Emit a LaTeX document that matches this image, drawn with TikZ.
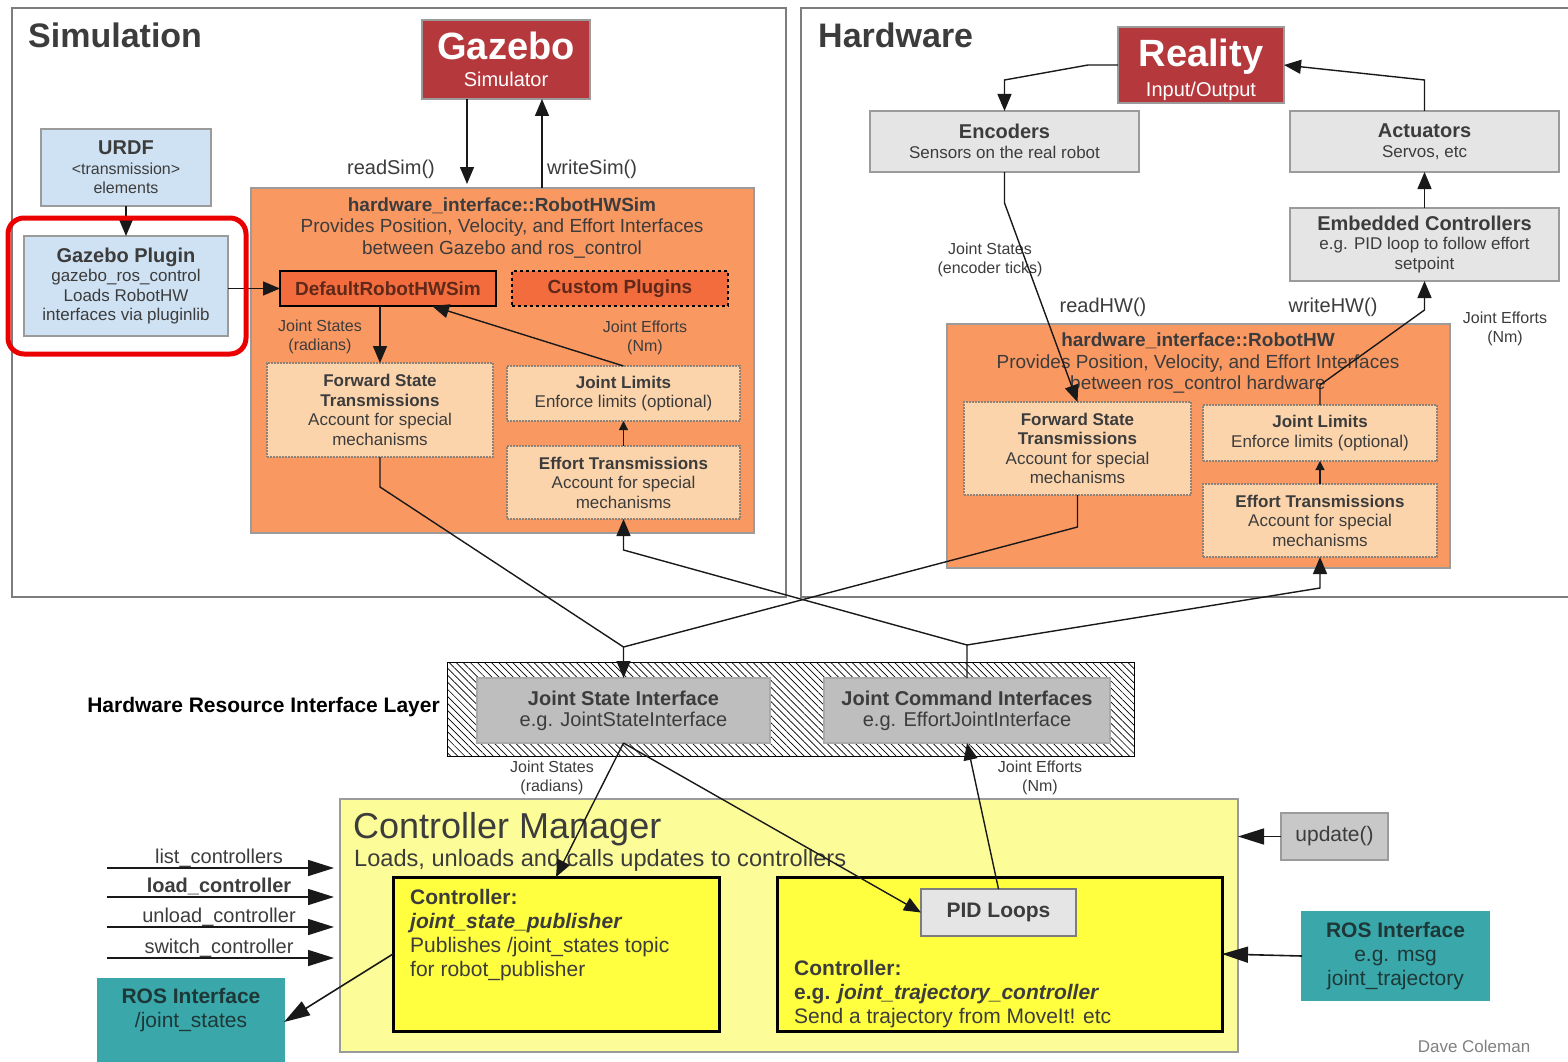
\documentclass[tikz,border=0pt]{standalone}
\usepackage{fontspec}
\setmainfont{Liberation Sans}
\usetikzlibrary{arrows.meta,patterns.meta,positioning}

\definecolor{framegray}{RGB}{125,125,125}
\definecolor{boxline}{RGB}{155,155,155}
\definecolor{txtgray}{RGB}{60,60,60}
\definecolor{linecol}{RGB}{25,25,25}
\definecolor{simred}{RGB}{180,56,60}
\definecolor{urdfblue}{RGB}{207,226,243}
\definecolor{hworange}{RGB}{250,152,98}
\definecolor{plugorange}{RGB}{242,108,62}
\definecolor{plugtext}{RGB}{95,40,25}
\definecolor{transpeach}{RGB}{252,212,172}
\definecolor{dotgray}{RGB}{140,130,120}
\definecolor{boxgray}{RGB}{229,229,229}
\definecolor{ifacegray}{RGB}{190,190,190}
\definecolor{ifaceline}{RGB}{170,170,170}
\definecolor{cmyellow}{RGB}{252,252,152}
\definecolor{ctrlyellow}{RGB}{255,255,64}
\definecolor{rosteal}{RGB}{58,168,170}
\definecolor{rostext}{RGB}{30,55,55}
\definecolor{hlred}{RGB}{235,0,0}

\newcommand{\fsLbl}{\fontsize{16}{19}\selectfont}
\newcommand{\fsBox}{\fontsize{17}{19.5}\selectfont}
\newcommand{\fsMid}{\fontsize{19}{21.5}\selectfont}
\newcommand{\fsHead}{\fontsize{20}{21}\selectfont}
\newcommand{\fsCtl}{\fontsize{21}{24}\selectfont}
\newcommand{\fsTitle}{\fontsize{34}{36}\selectfont}
\newcommand{\fsGiant}{\fontsize{38}{38}\selectfont}

\tikzset{
  frame/.style={draw=framegray, line width=2pt},
  sz/.style 2 args={minimum width=#1pt, minimum height=#2pt},
  blk/.style={draw=boxline, line width=1.2pt, inner sep=0pt, outer sep=0pt,
    align=center, text=txtgray, font=\fsBox},
  redbox/.style={blk, fill=simred, text=white},
  bluebox/.style={blk, fill=urdfblue},
  graybox/.style={blk, fill=boxgray},
  orangebox/.style={blk, fill=hworange},
  plugbox/.style={blk, draw=black, fill=plugorange, text=plugtext, font=\fsMid\bfseries},
  trans/.style={blk, fill=transpeach, draw=dotgray, line width=2pt, densely dotted},
  iface/.style={blk, fill=ifacegray, draw=ifaceline, font=\fsHead},
  ctrl/.style={blk, draw=black, line width=3pt, fill=ctrlyellow},
  ros/.style={blk, fill=rosteal, draw=rosteal, text=rostext, font=\fsCtl},
  lbl/.style={align=center, inner sep=0pt, text=txtgray, font=\fsLbl},
  call/.style={inner sep=0pt, text=txtgray, font=\fsHead},
  arr/.style={draw=linecol, line width=1.4pt, -{Triangle[length=17pt,width=14pt]}},
  thinarr/.style={draw=linecol, line width=1.2pt, -{Triangle[length=9pt,width=9pt]}},
  bigarr/.style={draw=linecol, line width=1.6pt, -{Triangle[length=26pt,width=16pt]}},
  wire/.style={draw=linecol, line width=1.4pt},
}

\begin{document}
\begin{tikzpicture}[x=1pt, y=-1pt]
  \useasboundingbox (0,0) rectangle (1568,1062);
  \clip (0,0) rectangle (1568,1062);

  % Simulation side
  \draw[frame] (12,8) rectangle (786,597);
  \node[anchor=base west, inner sep=0pt, font=\fsTitle\bfseries, text=txtgray] (simtitle) at (28,48) {Simulation};
  \node[redbox, sz={168}{79}] (gazebo) at (506,59.5) {{\fsGiant\bfseries Gazebo}\\[8pt]{\fontsize{20}{20}\selectfont Simulator}};
  \node[bluebox, sz={170}{77}] (urdf) at (126,167.5) {{\fsHead\bfseries URDF}\\{\fontsize{16}{21}\selectfont\textless transmission\textgreater}\\{\fontsize{16}{21}\selectfont elements}};
  \node[bluebox, sz={204}{100}] (plugin) at (126,286) {{\fsHead\bfseries Gazebo Plugin}\\gazebo\_ros\_control\\Loads RobotHW\\interfaces via pluginlib};

  \node[orangebox, sz={503}{345}] (hwsim) at (502.5,360.5) {};
  \node[lbl, font=\fsMid] (hwsimtxt) at (502,228) {\textbf{hardware\_interface::RobotHWSim}\\Provides Position, Velocity, and Effort Interfaces\\between Gazebo and ros\_control};
  \node[plugbox, sz={216}{35}] (defsim) at (388,288.5) {DefaultRobotHWSim};
  \node[plugbox, dashed, sz={216}{35}] (custom) at (620,288.5) {Custom Plugins};
  \node[trans, sz={226}{94}] (fstsim) at (380,410) {\textbf{Forward State}\\\textbf{Transmissions}\\Account for special\\mechanisms};
  \node[trans, sz={233}{55}] (jlsim) at (623.5,393.5) {\textbf{Joint Limits}\\Enforce limits (optional)};
  \node[trans, sz={233}{73}] (etsim) at (623.5,482.5) {\textbf{Effort Transmissions}\\Account for special\\mechanisms};

  \node[lbl] (jssim) at (320,336.5) {Joint States\\(radians)};
  \node[lbl] (jesim) at (645,337.5) {Joint Efforts\\(Nm)};
  \node[call] (readsim) at (391,169) {readSim()};
  \node[call] (writesim) at (592,169) {writeSim()};

  \draw[arr] ([xshift=-39pt]gazebo.south) -- ([xshift=-39pt,yshift=4pt]gazebo.south |- hwsim.north);
  \draw[arr] ([xshift=36pt]gazebo.south |- hwsim.north) -- ([xshift=36pt]gazebo.south);
  \draw[arr] (urdf.south) -- (plugin.north);
  \draw[arr] (plugin.east |- defsim.west) -- (defsim.west);
  \draw[arr] (fstsim.north |- defsim.south) -- (fstsim.north);
  \draw[arr] (jlsim.north) -- ([xshift=44pt]defsim.south);
  \draw[thinarr] (etsim.north) -- (jlsim.south);

  % Hardware side
  \draw[frame] (801,8) rectangle (1590,597);
  \node[anchor=base west, inner sep=0pt, font=\fsTitle\bfseries, text=txtgray] (hwtitle) at (818,48) {Hardware};
  \node[redbox, sz={166}{76}] (reality) at (1201,65) {};
  \node[lbl, text=white] (realitytxt) at (1201,70) {{\fsGiant\bfseries Reality}\\[7pt]{\fontsize{20}{20}\selectfont Input/Output}};
  \node[graybox, sz={269}{61}] (encoders) at (1004.5,141.5) {{\fsHead\bfseries Encoders}\\Sensors on the real robot};
  \node[graybox, sz={269}{61}] (actuators) at (1424.5,141.5) {{\fsHead\bfseries Actuators}\\Servos, etc};
  \node[graybox, sz={269}{73}] (embedded) at (1424.5,244.5) {{\fsHead\bfseries Embedded Controllers}\\e.g. PID loop to follow effort\\setpoint};

  \node[orangebox, sz={503}{244}] (robothw) at (1198.5,446) {};
  \node[lbl, font=\fsMid] (robothwtxt) at (1198,363.5) {\textbf{hardware\_interface::RobotHW}\\Provides Position, Velocity, and Effort Interfaces\\between ros\_control hardware};
  \node[trans, sz={227}{93}] (fsthw) at (1077.5,448.5) {\textbf{Forward State}\\\textbf{Transmissions}\\Account for special\\mechanisms};
  \node[trans, sz={234}{56}] (jlhw) at (1320,433) {\textbf{Joint Limits}\\Enforce limits (optional)};
  \node[trans, sz={234}{73}] (ethw) at (1320,520.5) {\textbf{Effort Transmissions}\\Account for special\\mechanisms};

  \node[lbl] (jshw) at (990,259.5) {Joint States\\(encoder ticks)};
  \node[lbl] (jehw) at (1505,328.5) {Joint Efforts\\(Nm)};
  \node[call] (readhw) at (1103,307) {readHW()};
  \node[call] (writehw) at (1333,307) {writeHW()};

  \draw[arr] (reality.west) -- ([xshift=-30pt]reality.west) -- ([yshift=31pt]encoders.north) -- (encoders.north);
  \draw[arr] (actuators.north) -- ([yshift=31pt]actuators.north) -- (reality.east);
  \draw[arr] (embedded.north) -- (actuators.south);
  \draw[arr] (encoders.south) -- ([yshift=-31pt]encoders.south) -- (fsthw.north);
  \draw[arr] (jlhw.north) -- ([yshift=20pt]jlhw.north) -- ([yshift=-29pt]embedded.south) -- (embedded.south);
  \draw[thinarr] (ethw.north) -- (jlhw.south);

  % Hardware resource interface layer
  \node[draw=black, line width=1pt, inner sep=0pt, outer sep=0pt,
    pattern={Lines[angle=-45,distance=5pt,line width=0.7pt]}, sz={687}{94}] (layer) at (790.5,709) {};
  \node[anchor=east, inner sep=0pt, font=\fontsize{21}{21}\selectfont\bfseries, text=black] (layerlbl) at (440,707) {Hardware Resource Interface Layer};
  \node[iface, sz={293}{65}] (jsi) at (623.5,710.5) {\textbf{Joint State Interface}\\e.g. JointStateInterface};
  \node[iface, sz={286}{65}] (jci) at (967,710.5) {\textbf{Joint Command Interfaces}\\e.g. EffortJointInterface};

  \draw[arr] (fstsim.south) -- ([yshift=-30pt]fstsim.south) -- ([yshift=31pt]jsi.north) -- (jsi.north);
  \draw[wire] (fsthw.south) -- ([yshift=-32pt]fsthw.south) -- ([yshift=31pt]jsi.north);
  \draw[arr] (jci.north) -- ([yshift=33pt]jci.north) -- ([yshift=-31pt]etsim.south) -- (etsim.south);
  \draw[arr] ([yshift=33pt]jci.north) -- ([yshift=-31pt]ethw.south) -- (ethw.south);

  % Controller manager
  \node[blk, fill=cmyellow, sz={898}{253}] (cm) at (789,925.5) {};
  \node[anchor=base west, inner sep=0pt, font=\fontsize{36}{36}\selectfont, text=txtgray] (cmtitle) at (353,838) {Controller Manager};
  \node[anchor=base west, inner sep=0pt, font=\fontsize{23.6}{23.6}\selectfont, text=txtgray] (cmsub) at (354,866) {Loads, unloads and calls updates to controllers};

  \node[ctrl, sz={326}{154}] (jsp) at (556,954) {};
  \node[anchor=north west, align=left, inner sep=0pt, font=\fsCtl, text=txtgray] (jsptxt) at (410,889) {\textbf{Controller:}\\\textbf{\textit{joint\_state\_publisher}}\\Publishes /joint\_states topic\\for robot\_publisher};
  \node[ctrl, sz={445}{154}] (jtc) at (999.5,954) {};
  \node[anchor=north west, align=left, inner sep=0pt, font=\fsCtl, text=txtgray] (jtctxt) at (794,960) {\textbf{Controller:}\\\textbf{e.g. \textit{joint\_trajectory\_controller}}\\Send a trajectory from MoveIt! etc};
  \node[graybox, draw=framegray, font=\fsCtl\bfseries, sz={155}{47}] (pid) at (998.5,912.5) {PID Loops};

  \node[blk, fill=ifacegray!85, font=\fsCtl, sz={107}{47}] (update) at (1334.5,836.5) {update()};
  \node[ros, sz={187}{88}] (rosright) at (1395.5,956) {\textbf{ROS Interface}\\e.g. msg\\joint\_trajectory};
  \node[ros, sz={186}{86}] (rosleft) at (191,1022) {};
  \node[lbl, font=\fsCtl, text=rostext] (rosltxt) at (191,1010) {\textbf{ROS Interface}\\/joint\_states};

  \node[lbl] (jsbot) at (552,777.5) {Joint States\\(radians)};
  \node[lbl] (jebot) at (1040,777.5) {Joint Efforts\\(Nm)};

  \foreach \yy/\cmdname/\wt in {868/list\_controllers/\mdseries, 897/load\_controller/\bfseries,
      927/unload\_controller/\mdseries, 958/switch\_controller/\mdseries}{
    \coordinate (cmd) at (107,\yy);
    \draw[bigarr, shorten >=6pt] (cmd) -- (cmd -| cm.west);
    \node[anchor=base, inner sep=0pt, font=\fsHead\wt, text=txtgray] at (219,\yy-5) {\cmdname};
  }

  \draw[arr] (jsi.south) -- (jsp.north);
  \draw[arr] (jsi.south) -- (pid.west);
  \draw[arr] (pid.north) -- (jci.south);
  \draw[bigarr] (jsp.west) -- (rosleft.east);
  \draw[bigarr] (update.west) -- (cm.east |- update.west);
  \draw[bigarr] (rosright.west) -- (jtc.east);

  \node[inner sep=0pt, font=\fontsize{17}{17}\selectfont, text=gray] (author) at (1474,1046) {Dave Coleman};

  % highlight round the plugin
  \draw[hlred, line width=5pt, rounded corners=16pt] (8,218) rectangle (246,354);
\end{tikzpicture}
\end{document}
